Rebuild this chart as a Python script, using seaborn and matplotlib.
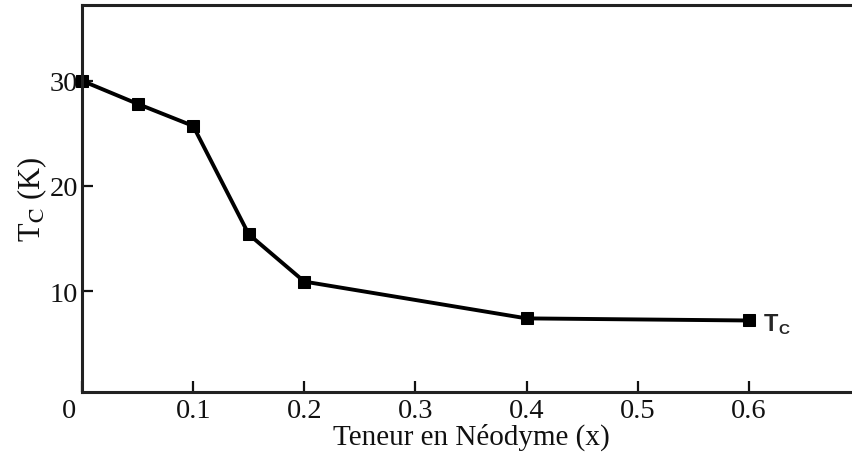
import numpy as np
import pandas as pd
import matplotlib
matplotlib.use("Agg")
import matplotlib.pyplot as plt
import matplotlib.transforms as mtransforms
import seaborn as sns

# Nd content and critical temperature
teneur = [0.0, 0.05, 0.10, 0.15, 0.20, 0.40, 0.60]
tc_k = [30.0, 27.8, 25.7, 15.4, 10.9, 7.4, 7.2]

x_ticks = [0.0, 0.1, 0.2, 0.3, 0.4, 0.5, 0.6]
x_tick_labels = ["0", "0.1", "0.2", "0.3", "0.4", "0.5", "0.6"]
y_ticks = [10, 20, 30]

df = pd.DataFrame({"x": teneur, "Tc": tc_k})

sns.set_style("ticks")
plt.rcParams["font.family"] = ["Liberation Serif", "DejaVu Serif"]
plt.rcParams["mathtext.fontset"] = "stix"

fig = plt.figure(figsize=(8.52, 4.56), dpi=100)
ax = fig.add_axes([82 / 852, 63 / 456, 778 / 852, 387 / 456])

sns.lineplot(data=df, x="x", y="Tc", ax=ax, color="black", linewidth=2.8,
             marker="s", markersize=9, markeredgecolor="black", clip_on=False)

ax.set_xlim(0, 0.70)
ax.set_ylim(0.4, 37.2)
ax.set_xticks(x_ticks)
ax.set_xticklabels(x_tick_labels)
ax.set_yticks(y_ticks)

for s in ax.spines.values():
    s.set_linewidth(2.2)
    s.set_color("#222222")

ax.tick_params(axis="both", direction="in", length=8, width=1.6,
               labelsize=20.5, colors="#111111")
ax.tick_params(axis="x", pad=4)
ax.tick_params(axis="y", pad=3)

# the "0" label sits left of the spine in the original
lab0 = ax.get_xticklabels()[0]
lab0.set_transform(lab0.get_transform() +
                   mtransforms.ScaledTranslation(-13 / 100, 0, fig.dpi_scale_trans))

ax.set_xlabel("Teneur en Néodyme (x)", fontsize=21, labelpad=0, color="#111111")
ax.set_ylabel(r"T$_{\rm C}$ (K)", fontsize=22, labelpad=0, color="#111111")

# curve label next to the last point
ax.annotate("T", xy=(teneur[-1], tc_k[-1]), xytext=(11, -2), textcoords="offset points",
            fontsize=17, fontweight="bold", family="Liberation Sans", va="center")
ax.annotate("C", xy=(teneur[-1], tc_k[-1]), xytext=(21, -6), textcoords="offset points",
            fontsize=11, fontweight="bold", family="Liberation Sans", va="center")

fig.savefig("out.png", dpi=100)
